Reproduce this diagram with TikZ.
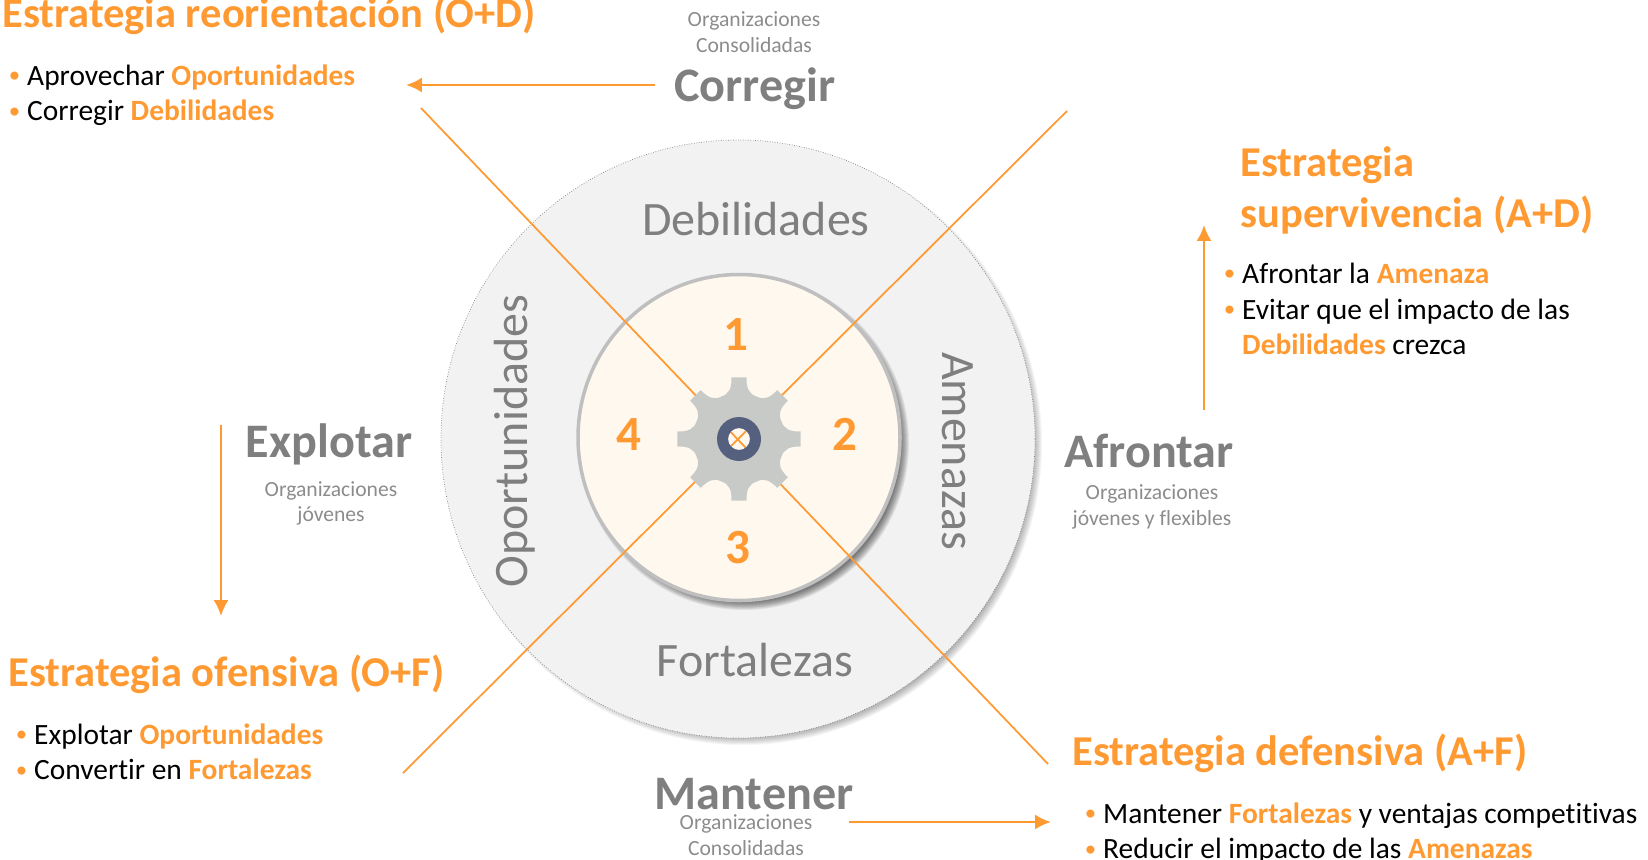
\documentclass[tikz,border=0pt]{standalone}
\usepackage{fontspec}
\setmainfont{Carlito}[Ligatures=NoCommon]
\definecolor{naranja}{HTML}{FF9A33}
\definecolor{grisT}{HTML}{7F7F7F}
\definecolor{grisS}{HTML}{8C8C8C}
\definecolor{crema}{HTML}{FFF8EE}
\definecolor{fondo}{HTML}{F2F2F2}
\definecolor{engranaje}{HTML}{C8CAC7}
\definecolor{eje}{HTML}{55607F}
\newcommand{\ob}[1]{\textcolor{naranja}{\bfseries #1}}
\newcommand{\vineta}{\makebox[9.6pt][l]{\hspace*{-0.8pt}\raisebox{1.6pt}{\textcolor{naranja}{\fontsize{13}{13}\selectfont •}}}}
\tikzset{
  titulo/.style={anchor=base west,inner sep=0pt,text=naranja,font=\fontsize{24.2}{28.6}\selectfont\bfseries,align=left},
  lista/.style={anchor=north west,inner sep=0pt,font=\fontsize{16.75}{20.1}\selectfont,align=left},
  accion/.style={inner sep=0pt,text=grisT,font=\fontsize{27.4}{30}\selectfont\bfseries},
  nota/.style={inner sep=0pt,text=grisS,font=\fontsize{12.3}{14.6}\selectfont,align=center},
  zona/.style={inner sep=0pt,text=grisT,font=\fontsize{27.3}{30}\selectfont},
  numero/.style={inner sep=0pt,text=naranja,font=\fontsize{28}{30}\selectfont\bfseries},
  linea/.style={naranja,line width=1pt},
  flecha/.style={naranja,line width=1.4pt,-{Latex[length=9pt,width=8.5pt]}},
}
\usetikzlibrary{arrows.meta}
\begin{document}
\begin{tikzpicture}[x=0.02cm,y=-0.02cm]
  \useasboundingbox (0,0) rectangle (1648,859);
  % sombras
  \foreach \r in {0,1,...,8}{
    \fill[black,opacity=0.04] (743,444) ellipse ({299-\r} and {301-\r});
  }
  % discos
  \fill[fondo] (738,439) ellipse (297 and 299);
  \draw[gray,densely dotted,line width=0.4pt] (738,439) ellipse (297 and 299);
  \foreach \r in {0,1,...,8}{
    \fill[black,opacity=0.07] (744,443) ellipse ({165-\r} and {167-\r});
  }
  \fill[crema] (739,437.5) ellipse (161 and 163);
  \draw[white!75!black,line width=2pt] (739,437.5) ellipse (161 and 163);
  % lineas
  \coordinate (ld1) at (421,108);
  \coordinate (ld2) at (1048,764);
  \coordinate (li1) at (1067,111);
  \coordinate (li2) at (403,773);
  \draw[linea] (ld1)--(ld2);
  \draw[linea] (li1)--(li2);
  % engranaje
  \begin{scope}[shift={(739,439)}]
    \fill[engranaje,even odd rule] (-7:62) \foreach \a in {0,45,...,315}{
      -- (\a+7:62) .. controls (\a+8:51) and (\a+13:46) .. (\a+22.5:46)
      .. controls (\a+32:46) and (\a+37:51) .. (\a+38:62)
    } -- cycle (0,0) circle (11);
    \fill[eje,even odd rule] (0,0) circle (22) (0,0) circle (11);
  \end{scope}
  % zonas
  \node[zona] (debilidades) at (756,219) {Debilidades};
  \node[zona] (fortalezas) at (755,660) {Fortalezas};
  \node[zona,rotate=90] (oportunidades) at (515,441) {Oportunidades};
  \node[zona,rotate=-90] (amenazas) at (958,451) {Amenazas};
  \node[numero] (n1) at (736,335) {1};
  \node[numero] (n2) at (845,434) {2};
  \node[numero] (n3) at (738,548) {3};
  \node[numero] (n4) at (629,435) {4};
  % acciones
  \node[accion] (corregir) at (755,89) {Corregir};
  \node[nota] (ncorregir) at (754,32) {Organizaciones\\Consolidadas};
  \node[accion] (explotar) at (329,444) {Explotar};
  \node[nota] (nexplotar) at (331,503.5) {Organizaciones\\jóvenes};
  \node[accion] (afrontar) at (1149,451) {Afrontar};
  \node[nota] (nafrontar) at (1152,507) {Organizaciones\\jóvenes y flexibles};
  \node[accion] (mantener) at (754,794) {Mantener};
  \node[nota] (nmantener) at (746,835) {Organizaciones\\Consolidadas};
  % estrategias
  \node[titulo] (t1) at (2,27) {Estrategia reorientación (O+D)};
  \node[lista] (l1) at (10,64.5) {\vineta Aprovechar \ob{Oportunidades}\\\vineta Corregir \ob{Debilidades}};
  \node[titulo] (t2) at (1240,227) {Estrategia\\supervivencia (A+D)};
  \node[lista] (l2) at (1225,263) {\vineta Afrontar la \ob{Amenaza}\\\vineta Evitar que el impacto de las\\\hspace*{9.6pt}\ob{Debilidades} crezca};
  \node[titulo] (t3) at (8,686) {Estrategia ofensiva (O+F)};
  \node[lista] (l3) at (17,723.5) {\vineta Explotar \ob{Oportunidades}\\\vineta Convertir en \ob{Fortalezas}};
  \node[titulo] (t4) at (1072,765) {Estrategia defensiva (A+F)};
  \node[lista] (l4) at (1086,802.5) {\vineta Mantener \ob{Fortalezas} y ventajas competitivas\\\vineta Reducir el impacto de las \ob{Amenazas}};
  % flechas
  \coordinate (p1) at (406,85);
  \coordinate (p2) at (1204,225);
  \coordinate (p3) at (221,616);
  \coordinate (p4) at (1051,822);
  \coordinate (o1) at (655,85);
  \coordinate (o2) at (1204,410);
  \coordinate (o3) at (221,425);
  \coordinate (o4) at (849,822);
  \draw[flecha] (o1)--(p1);
  \draw[flecha] (o2)--(p2);
  \draw[flecha] (o3)--(p3);
  \draw[flecha] (o4)--(p4);
\end{tikzpicture}
\end{document}
